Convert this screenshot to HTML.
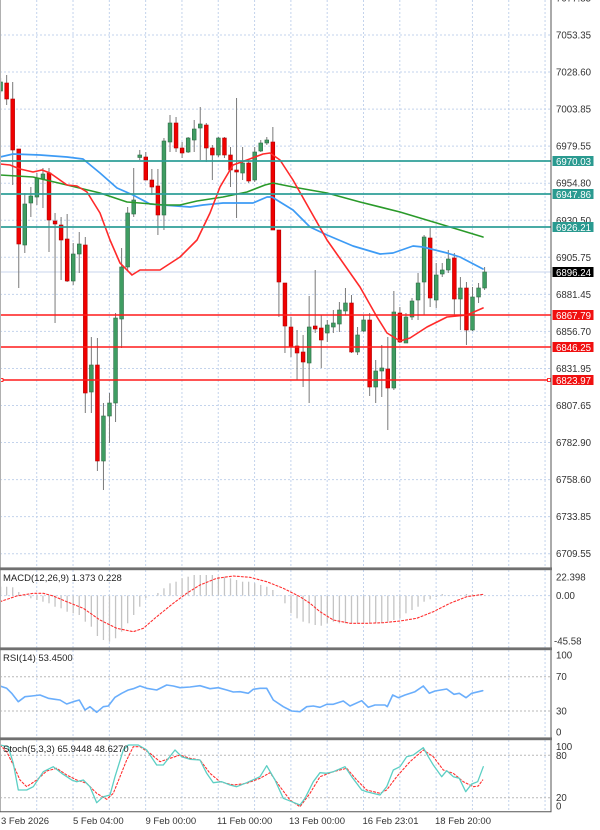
<!DOCTYPE html>
<html><head><meta charset="utf-8"><style>
html,body{margin:0;padding:0;background:#fff;width:600px;height:830px;overflow:hidden}
svg{position:absolute;left:0;top:0;font-family:"Liberation Sans",sans-serif}
</style></head><body>
<svg id="c" width="600" height="830" xmlns="http://www.w3.org/2000/svg">
<rect x="0" y="0" width="600" height="830" fill="#fff"/>
<g id="g"></g>
<g font-size="9.7" fill="#333">
<text x="556" y="1.5">7077.85</text>
<text x="556" y="38.5">7053.35</text>
<text x="556" y="75.6">7028.60</text>
<text x="556" y="112.6">7003.85</text>
<text x="556" y="149.7">6979.55</text>
<text x="556" y="186.7">6954.80</text>
<text x="556" y="223.8">6930.50</text>
<text x="556" y="260.8">6905.75</text>
<text x="556" y="297.9">6881.45</text>
<text x="556" y="334.9">6856.70</text>
<text x="556" y="372">6831.95</text>
<text x="556" y="409">6807.65</text>
<text x="556" y="446.1">6782.90</text>
<text x="556" y="483.1">6758.60</text>
<text x="556" y="520.2">6733.85</text>
<text x="556" y="557.2">6709.55</text>
</g>
<g id="boxes"></g>
<g font-size="9.7" fill="#fff">
<text x="556" y="165">6970.03</text>
<text x="556" y="198">6947.86</text>
<text x="556" y="231">6926.21</text>
<text x="556" y="276">6896.24</text>
<text x="556" y="319">6867.79</text>
<text x="556" y="351">6846.25</text>
<text x="556" y="384">6823.97</text>
</g>
<g font-size="9.7" fill="#333">
<text x="556" y="580.5">22.398</text>
<text x="556" y="599.2">0.00</text>
<text x="554" y="644.5">-45.58</text>
<text x="556" y="658.5">100</text>
<text x="556" y="680.2">70</text>
<text x="556" y="714.5">30</text>
<text x="556" y="735.5">0</text>
<text x="556" y="750.2">100</text>
<text x="556" y="758.8">80</text>
<text x="556" y="801.2">20</text>
<text x="556" y="809.5">0</text>
</g>
<g font-size="9.5" fill="#222">
<text x="3" y="581">MACD(12,26,9) 1.373 0.228</text>
<text x="3" y="661">RSI(14) 53.4500</text>
<text x="3" y="752">Stoch(5,3,3) 65.9448 48.6270</text>
</g>
<g font-size="9.5" fill="#333">
<text x="1" y="824">3 Feb 2026</text>
<text x="73" y="824">5 Feb 04:00</text>
<text x="145.5" y="824">9 Feb 00:00</text>
<text x="217" y="824">11 Feb 00:00</text>
<text x="289" y="824">13 Feb 00:00</text>
<text x="362.5" y="824">16 Feb 23:01</text>
<text x="435" y="824">18 Feb 20:00</text>
</g>
</svg>
<script>
const NS='http://www.w3.org/2000/svg';
const G=document.getElementById('g');
const B=document.getElementById('boxes');
function el(t,a,p){const e=document.createElementNS(NS,t);for(const k in a)e.setAttribute(k,a[k]);(p||G).appendChild(e);return e;}
function line(x1,y1,x2,y2,s,w,d){const a={x1,y1,x2,y2,stroke:s,'stroke-width':w};if(d)a['stroke-dasharray']=d;return el('line',a);}
function poly(pts,s,w,d){const a={points:pts.map(p=>p.join(',')).join(' '),fill:'none',stroke:s,'stroke-width':w,'stroke-linejoin':'round','stroke-linecap':'round'};if(d)a['stroke-dasharray']=d;return el('polyline',a);}
const X=i=>0.6+6.05*i;
const gridC='#c3d3ec';
const panels=[[0,567],[570,647.7],[650,737.7],[740,811.7]];
// vertical grid
for(let k=1;k<=15;k++){const x=0.4+36.31*k;for(const p of panels)line(x,p[0],x,p[1],gridC,1,'2,2');}
// horizontal grids
for(let k=0;k<=14;k++){const y=35+37.05*k;line(0,y,551,y,gridC,1,'2,2');}
line(0,595.6,551,595.6,gridC,1,'2,2');
line(0,676.7,551,676.7,'#b8b8b8',1,'2,2');
line(0,711,551,711,'#b8b8b8',1,'2,2');
line(0,755.3,551,755.3,'#b8b8b8',1,'2,2');
line(0,797.7,551,797.7,'#b8b8b8',1,'2,2');
// current price line
line(0,272,551,272,'#c8d6ee',1);
// candles
const C=[
['g',82,91,78,93],['r',83,99,75,105],['r',99,150,82,185],['r',149,244,149,288],['g',204,245,193,253],
['g',196,203,187,217],['g',178,197,173,205],['g',174,179,168,208],['r',173,220,168,252],['r',221,224,213,323],
['r',225,240,217,280],['r',239,281,214,282],['g',254,281,243,285],['g',244,254,232,273],['r',245,393,237,413],
['g',365,392,337,413],['r',365,461,338,471],['g',416,461,403,490],['g',403,416,393,443],['g',318,403,313,422],
['g',267,319,248,348],['g',213,267,207,270],['g',200,214,168,217],['g',155,157.5,150,160],['r',157,180,152,180],
['r',180,187,169,195],['r',186,215,169,235],['g',141,215,138,230],['g',123,142,115,152],['r',123,148,117,152],
['r',148,153,142,158],['g',138,152,137,153],['g',129,140,120,152],['g',124,128,107,160],['r',125,148,123,162],
['r',148,155,145,180],['g',138,155,137,157],['r',138,155,137,158],['r',155,170,147,187],['r',170,172,98,218],
['g',163,173,147,180],['r',163,181,160,183],['g',152,180,147,182],['g',143,151,140,152],['g',140,143,137,145],
['r',142,230,127,230],['r',230,282,230,317],['r',283,326,283,353],['r',327,347,317,357],['r',346,353,330,380],
['r',352,362,335,387],['g',327,363,296,403],['r',326,329,270,333],['r',328,340,315,368],['g',325,333,320,342],
['g',323,327,310,333],['g',310,324,302,332],['g',303,311,288,315],['r',303,352,295,353],['g',335,352,327,355],
['g',320,331,315,332],['r',320,387,313,396],['g',371,387,360,403],['g',368,371,345,397],['r',369,388,337,430],
['g',312,388,291,390],['r',313,342,307,343],['g',317,343,313,343],['g',301,317,298,320],['g',283,300,273,320],
['g',237,282,235,315],['r',238,298,228,307],['g',275,300,263,308],['g',270,274,263,277],['g',259,270,250,273],
['r',258,299,253,315],['g',288,299,277,330],['r',288,330,282,345],['g',297,330,287,331],['g',288,297,283,303],
['g',272,288,267,290]];
C.forEach((c,i)=>{const x=X(i);line(x,c[3],x,c[4],'#7a7a7a',1);
 const h=Math.max(c[2]-c[1],1);
 el('rect',{x:x-1.9,y:c[1],width:3.8,height:h,fill:c[0]=='g'?'#3f9d62':'#f00000',stroke:c[0]=='g'?'#2d6b45':'#b00000','stroke-width':0.6});});
// moving averages
poly([[0,157],[13,154],[40,155],[67,157],[83,159],[100,173],[117,188],[133,195],[150,204],[163,205],[190,207],[203,205],[223,203],[253,203],[267,197],[272,197],[280,202],[293,210],[310,227],[327,235],[353,246],[380,254],[393,253],[413,246],[423,247],[447,253],[460,257],[483,269]],'#3d9bf5',1.7);
poly([[0,175],[33,177],[67,185],[100,193],[127,202],[140,203],[163,205],[180,205],[197,201],[223,197],[247,192],[265,185],[273,183],[293,187],[327,193],[360,202],[400,212],[420,218],[450,227],[483,237]],'#2a9a2a',1.6);
poly([[0,164],[10,165],[20,169],[33,172],[42,170],[50,173],[67,185],[77,186],[87,192],[100,213],[110,240],[120,263],[132,275],[140,270],[160,270],[180,257],[197,240],[210,213],[220,187],[233,165],[247,160],[263,154],[270,153],[280,160],[293,180],[327,240],[360,287],[377,317],[387,333],[400,341],[410,338],[427,327],[447,317],[467,315],[483,308]],'#ff2a2a',1.6);
// level lines
[161,194,227].forEach(y=>line(0,y,551,y,'#2f9f98',1.8));
[315,347,380].forEach(y=>line(0,y,551,y,'#ff1a1a',1.5));
el('rect',{x:0,y:378.5,width:3,height:3,fill:'#fff',stroke:'#f00','stroke-width':0.8});
el('rect',{x:547.5,y:378.5,width:3,height:3,fill:'#fff',stroke:'#f00','stroke-width':0.8});
// boxes
[[161,'#2a9a90'],[194,'#2a9a90'],[227,'#2a9a90'],[272,'#000'],[315,'#f01010'],[347,'#f01010'],[380,'#f01010']].forEach(b=>el('rect',{x:552.5,y:b[0]-5,width:41,height:10,fill:b[1]},B));
// MACD hist
const H=[586.7,586.7,587.3,592,596,598.3,600,601.7,603.3,606.7,608.3,611.7,613.3,615,621.7,626.7,636,640,641.7,638.3,631.7,623.3,615,606.7,598,595.6,593,588.3,583.3,581.7,578.3,576.7,575,575,575,575,576.7,576.7,578.3,580,581.7,581.7,583.3,585,586.7,590,595,603.3,613.3,618.3,621.7,623.3,625,625.7,623.3,621.7,623.3,623.3,623.3,623.3,623.3,623.3,623.3,623.3,621.7,620,618.3,613.3,610,606.7,601.7,599.3,597,594,595,596,595,594,594,594.5,595];
H.forEach((y,i)=>{const x=X(i);line(x,595.6,x,y,'#c4c4c4',1.3);});
poly([[0,601.7],[16.7,596],[33.3,593.3],[43.3,593.3],[53.3,596],[66.7,601.7],[83.3,608.3],[100,620],[116.7,628.3],[133.3,631.7],[143.3,628.3],[156.7,616.7],[173.3,603.3],[186.7,593.3],[200,585],[216.7,578.3],[233.3,576],[250,577.3],[266.7,581.7],[283.3,588.3],[300,596.7],[310,603.3],[320,611.7],[333.3,620],[350,623.3],[366.7,623.3],[383.3,622.7],[400,621],[416.7,618.3],[433.3,611.7],[450,603.3],[466.7,596.7],[483.3,594.3]],'#ff3030',1.1,'2,2');
// RSI
poly([[0,686],[6.7,688.3],[11.7,693.3],[18.3,701.7],[25,696.7],[31.7,696],[40,695],[48.3,698.3],[55,699.3],[60,700],[66.7,704],[73.3,701.7],[79.3,700],[85,710],[90,706.7],[96.7,712.3],[103.3,706.7],[108.3,706],[115,697.3],[121.7,693.3],[128.3,690],[133.3,688.7],[140,686],[146.7,688.3],[156.7,690],[166.7,685],[173.3,686],[180,687.7],[190,687],[200,685.7],[210,688.7],[218.3,687.7],[226.7,690],[233.3,692],[240,691.7],[248.3,693.3],[253.3,689.3],[260,688.3],[266.7,688.3],[273.3,700],[283.3,706.7],[291.7,711],[300,711.7],[306.7,706.7],[313.3,706],[320,707.3],[326.7,704.3],[333.3,704.3],[343.3,701],[350,706],[361.7,700.7],[368.3,707.3],[375,705],[385,705],[387.3,706.7],[392.7,695],[398.3,697.7],[405,695],[415,691.7],[423.3,686],[429.3,693.3],[435,691],[446.7,689],[454,694.3],[459.3,693.3],[466,697.7],[471.7,693.3],[482.7,690.7]],'#6aaefc',1.6);
// Stoch
poly([[0,745],[6.7,751.7],[13.3,765],[20,780],[26.7,786.7],[36.7,780],[46.7,771],[56.7,768.3],[66.7,775],[76.7,780],[86.7,783.3],[96.7,793.3],[106.7,799.3],[113.3,793.3],[120,776.7],[126.7,760],[133.3,746.7],[140,746.7],[150,753.3],[160,761.7],[170,758.3],[180,755],[190,758.3],[200,760],[210,773.3],[220,781.7],[233.3,785],[246.7,783.3],[260,778.3],[270,772.7],[280,786.7],[290,800],[300,806.7],[310,793.3],[320,776.7],[333.3,771.7],[346.7,768.3],[356.7,780],[366.7,790],[380,793.3],[386.7,790],[396.7,776.7],[410,761.7],[423.3,750],[433.3,756.7],[443.3,770],[453.3,773.3],[463.3,781.7],[473.3,786.7],[478.3,786],[482.7,780]],'#ff3030',1.1,'2,2');
poly([[0,745],[8.3,746.7],[13.3,763.3],[18.3,790],[26.7,790],[33.3,786.7],[43.3,771.7],[53.3,766.7],[61.7,773.3],[71.7,780],[76.7,781.7],[83.3,780],[90,786.7],[96.7,802.7],[103.3,796.7],[110,795],[115,776.7],[123.3,750],[128.3,745],[138.3,745],[146.7,750],[156.7,765],[163.3,765],[175,750],[181.7,756.7],[190,759.3],[200,760],[206.7,773.3],[213.3,782.7],[221.7,781.7],[230,785],[236.7,786.7],[246.7,782.7],[260,776.7],[266.7,765.7],[275,780],[283.3,798.3],[291.7,801.7],[300,805],[305,798.3],[313.3,781.7],[320,772.7],[326.7,773.3],[333.3,771.7],[345,766.7],[351.7,776.7],[361.7,790],[366.7,791.7],[380,795],[386.7,786.7],[393.3,770],[400,766.7],[406.7,756.7],[413.3,755],[423.3,747.7],[428.3,756.7],[433.3,765],[441.7,776.7],[446.7,770.7],[453.3,776.7],[459.3,778.3],[465.7,791.7],[471.7,784],[477.7,781.7],[483.3,766.7]],'#5ccfc4',1.3);
// frame
line(0.5,0,0.5,812,'#b0b0b0',1);
line(551,0,551,812,'#555',1);
line(0,811.7,551.5,811.7,'#555',1);
[568.8,648.8,738.8].forEach(y=>el('rect',{x:0,y:y-1.4,width:552,height:2.8,fill:'#707070'}));
</script>
</body></html>
